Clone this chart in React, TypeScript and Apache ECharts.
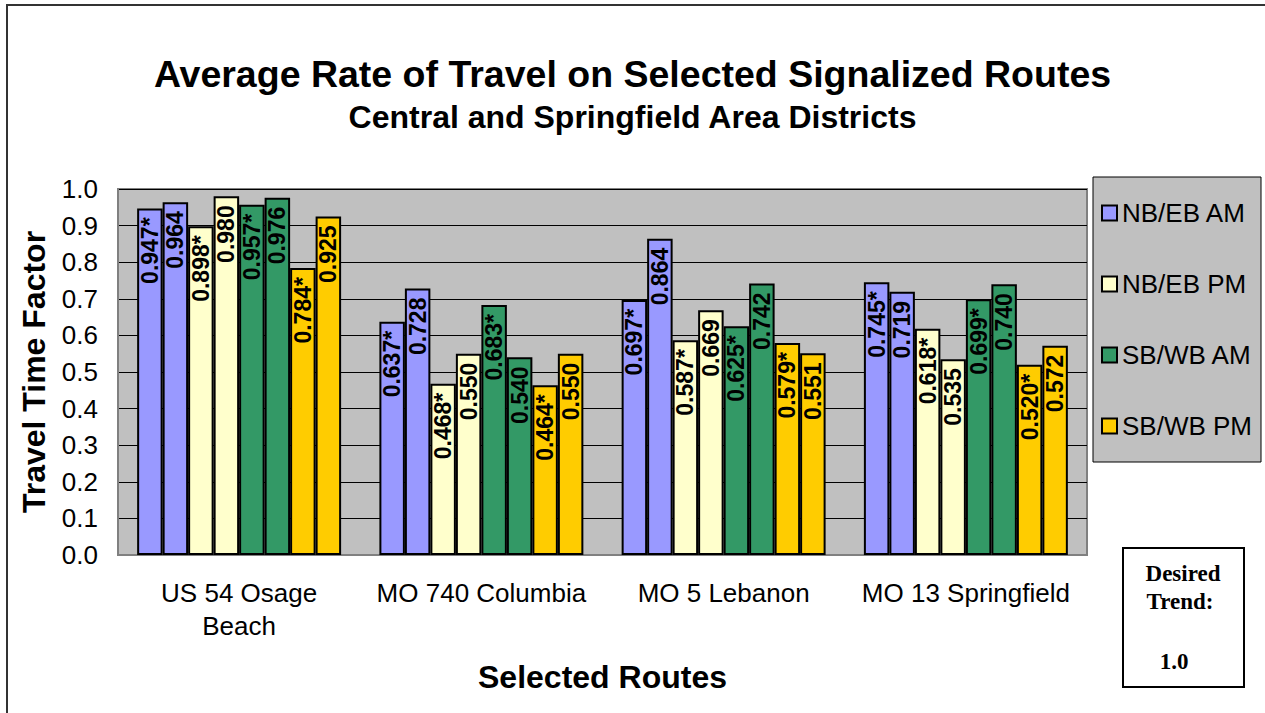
import React, { useEffect, useRef } from 'react';
import * as echarts from 'echarts';

const categories = ['US 54 Osage\nBeach', 'MO 740 Columbia', 'MO 5 Lebanon', 'MO 13 Springfield'];
const legendNames = ['NB/EB AM', 'NB/EB PM', 'SB/WB AM', 'SB/WB PM'];
const colors = ['#9999FF', '#FFFFCC', '#339966', '#FFCC00'];

// Each direction/period has two bars per route: the starred one and the plain one
const nbebAmStar = [0.947, 0.637, 0.697, 0.745];
const nbebAm = [0.964, 0.728, 0.864, 0.719];
const nbebPmStar = [0.898, 0.468, 0.587, 0.618];
const nbebPm = [0.98, 0.55, 0.669, 0.535];
const sbwbAmStar = [0.957, 0.683, 0.625, 0.699];
const sbwbAm = [0.976, 0.54, 0.742, 0.74];
const sbwbPmStar = [0.784, 0.464, 0.579, 0.52];
const sbwbPm = [0.925, 0.55, 0.551, 0.572];

const titleText = 'Average Rate of Travel on Selected Signalized Routes';
const subtitleText = 'Central and Springfield Area Districts';
const yAxisName = 'Travel Time Factor';
const xAxisName = 'Selected Routes';
const trendLines = ['Desired', 'Trend:', '1.0'];

const SANS = '"Liberation Sans", Arial, Helvetica, sans-serif';
const SERIF = '"Liberation Serif", "Times New Roman", serif';

const seriesDefs = [
  { name: legendNames[0], data: nbebAmStar, star: true, color: colors[0] },
  { name: legendNames[0], data: nbebAm, star: false, color: colors[0] },
  { name: legendNames[1], data: nbebPmStar, star: true, color: colors[1] },
  { name: legendNames[1], data: nbebPm, star: false, color: colors[1] },
  { name: legendNames[2], data: sbwbAmStar, star: true, color: colors[2] },
  { name: legendNames[2], data: sbwbAm, star: false, color: colors[2] },
  { name: legendNames[3], data: sbwbPmStar, star: true, color: colors[3] },
  { name: legendNames[3], data: sbwbPm, star: false, color: colors[3] },
];

export default function App() {
  const ref = useRef<HTMLDivElement>(null);

  useEffect(() => {
    document.body.style.margin = '0';
    if (!ref.current) return;
    const chart = echarts.init(ref.current, undefined, { renderer: 'svg' });

    const option: any = {
      animation: false,
      backgroundColor: '#FFFFFF',
      title: {
        text: titleText,
        subtext: subtitleText,
        left: 'center',
        top: 50,
        itemGap: 8,
        textStyle: { fontFamily: SANS, fontSize: 37.5, fontWeight: 'bold', color: '#000' },
        subtextStyle: { fontFamily: SANS, fontSize: 32, fontWeight: 'bold', color: '#000' },
      },
      legend: {
        data: legendNames,
        orient: 'vertical',
        left: 1093,
        top: 177,
        padding: [23, 9, 23, 8],
        itemGap: 45,
        itemWidth: 15,
        itemHeight: 15,
        backgroundColor: '#C0C0C0',
        borderColor: '#000',
        borderWidth: 1,
        icon: 'rect',
        selectedMode: false,
        textStyle: { fontFamily: SANS, fontSize: 26, lineHeight: 26, color: '#000' },
      },
      grid: {
        left: 118,
        top: 189,
        width: 969,
        height: 366,
        show: true,
        backgroundColor: '#C0C0C0',
        borderColor: '#808080',
        borderWidth: 2,
        containLabel: false,
      },
      xAxis: {
        type: 'category',
        data: categories,
        name: xAxisName,
        nameLocation: 'middle',
        nameGap: 106,
        nameTextStyle: { fontFamily: SANS, fontSize: 32, fontWeight: 'bold', color: '#000' },
        axisLine: { show: true, lineStyle: { color: '#808080', width: 2 } },
        axisTick: { show: false },
        axisLabel: {
          fontFamily: SANS,
          fontSize: 26,
          lineHeight: 33,
          color: '#000',
          margin: 21,
          interval: 0,
        },
      },
      yAxis: {
        type: 'value',
        min: 0,
        max: 1,
        interval: 0.1,
        name: yAxisName,
        nameLocation: 'middle',
        nameGap: 68,
        nameTextStyle: { fontFamily: SANS, fontSize: 32, fontWeight: 'bold', color: '#000' },
        axisLine: { show: true, lineStyle: { color: '#808080', width: 2 } },
        axisTick: { show: false },
        axisLabel: {
          fontFamily: SANS,
          fontSize: 26,
          color: '#000',
          margin: 20,
          formatter: (v: number) => v.toFixed(1),
        },
        splitLine: { show: true, lineStyle: { color: '#000', width: 1 } },
      },
      series: seriesDefs.map((s) => ({
        type: 'bar',
        name: s.name,
        data: s.data,
        barGap: '0%',
        barCategoryGap: '15.8%',
        itemStyle: { color: s.color, borderColor: '#000', borderWidth: 2 },
        label: {
          show: true,
          position: 'insideTop',
          rotate: 90,
          align: 'right',
          verticalAlign: 'middle',
          distance: 9,
          fontFamily: SANS,
          fontSize: 23,
          fontWeight: 'bold',
          color: '#000',
          formatter: (p: any) => p.value.toFixed(3) + (s.star ? '*' : ''),
        },
      })),
      graphic: [
        {
          type: 'rect',
          shape: { x: 7, y: 5, width: 1270, height: 730 },
          style: { fill: 'none', stroke: '#333', lineWidth: 2 },
          silent: true,
        },
        {
          type: 'rect',
          shape: { x: 1123, y: 548, width: 121, height: 139 },
          style: { fill: '#FFFFFF', stroke: '#000', lineWidth: 2 },
          silent: true,
        },
        {
          type: 'text',
          x: 1183,
          y: 573,
          style: { text: trendLines[0], font: `bold 23px ${SERIF}`, fill: '#000', align: 'center', verticalAlign: 'middle' },
        },
        {
          type: 'text',
          x: 1180,
          y: 601,
          style: { text: trendLines[1], font: `bold 23px ${SERIF}`, fill: '#000', align: 'center', verticalAlign: 'middle' },
        },
        {
          type: 'text',
          x: 1174,
          y: 661,
          style: { text: trendLines[2], font: `bold 23px ${SERIF}`, fill: '#000', align: 'center', verticalAlign: 'middle' },
        },
      ],
    };

    chart.setOption(option);
    return () => chart.dispose();
  }, []);

  return <div ref={ref} style={{ width: 1265, height: 713 }} />;
}
